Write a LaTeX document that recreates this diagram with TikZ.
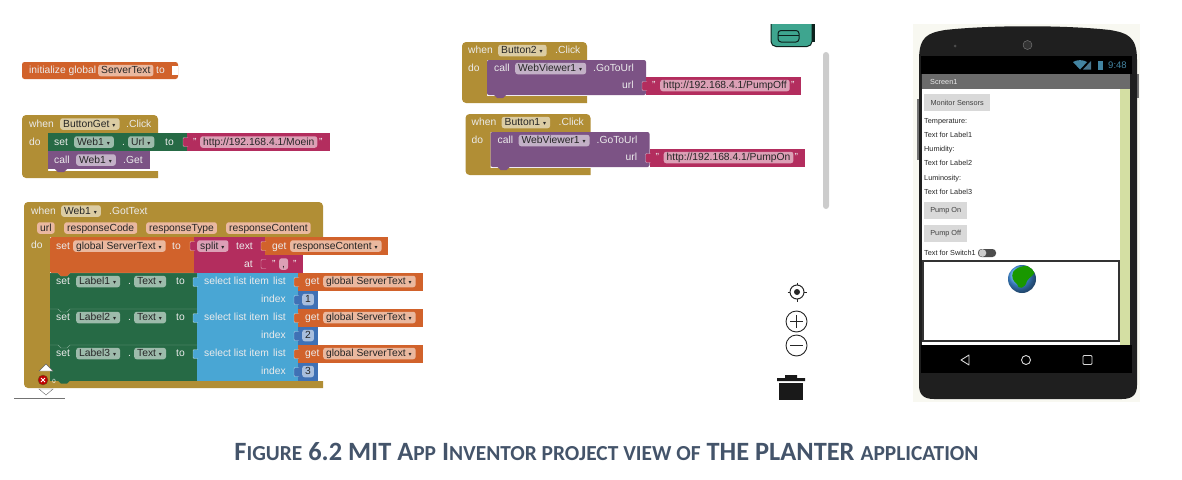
\documentclass[tikz,border=0pt]{standalone}
\usepackage{fontspec}
\setmainfont{Liberation Sans}
\newfontfamily\symfont{DejaVu Sans}
\newfontfamily\capfont{Carlito}
\definecolor{bgold}{HTML}{B18E35}
\definecolor{borange}{HTML}{D1622B}
\definecolor{bgreen}{HTML}{266A45}
\definecolor{bpurple}{HTML}{7C5385}
\definecolor{bpink}{HTML}{B32D5E}
\definecolor{bblue}{HTML}{49A6D4}
\definecolor{bnum}{HTML}{3F71B5}
\definecolor{bteal}{HTML}{3EA58F}
\definecolor{capcol}{HTML}{44546A}
\definecolor{pstrip}{HTML}{D4DFA3}
\definecolor{pback}{HTML}{F8F8F1}
\newcommand{\dd}{{\symfont\fontsize{6}{6}\selectfont\ \,▾\,}}
\newcommand{\sm}[1]{{\fontsize{21.4}{21.4}\selectfont #1}}
% event block: x1 x2 strip y1 y2 y3 y4
\newcommand{\hatblk}[7]{\fill[bgold, rounded corners=4pt] (#2,#7) -- (#1,#7) -- (#1,#4) -- (#2,#4) [sharp corners] -- (#2,#5) -- (#3,#5) -- (#3,#6) -- (#2,#6) -- cycle;}
\newcommand{\tabin}[3]{\draw[white, draw opacity=0.6, line width=0.4pt, fill=#3, rounded corners=1pt] (#1+1,#2-4.5) -- (#1-4,#2-4.5) -- (#1-4,#2+4.5) -- (#1+1,#2+4.5);}
\newcommand{\bump}[3]{\fill[#3] (#1,#2) -- (#1+3,#2+3) -- (#1+9,#2+3) -- (#1+12,#2) -- cycle;}
\begin{document}
\begin{tikzpicture}[x=1pt, y=-1pt, every node/.style={font=\fontsize{10.3}{12}\selectfont}]
    \tikzset{wt/.style={anchor=west, inner sep=0pt, text height=8.5pt, text depth=2pt, text=white!92!black},
        fld/.style={anchor=west, inner xsep=3pt, inner ysep=0.5pt, text height=8.5pt, text depth=2pt, rounded corners=2.5pt, fill=white, fill opacity=0.55, text opacity=1, text=black!85},
        parm/.style={fld, fill=borange!45!white, fill opacity=1},
        phtxt/.style={anchor=west, inner sep=0pt, text height=5.5pt, text depth=1.5pt, font=\fontsize{7.3}{9}\selectfont, text=black!85},
        phbtn/.style={anchor=west, inner sep=0pt, minimum height=17pt, fill=black!15, font=\fontsize{7.3}{9}\selectfont, text=black!75}}
    \useasboundingbox (0,0) rectangle (1182,479);
    % initialize global
    \fill[borange, rounded corners=2.5pt] (22,62) rectangle (178,79);
    \fill[white] (172,66) rectangle (178,75);
    \node[wt] (inittxt) at (29,70.5) {initialize global};
    \node[fld] (initvar) at (98,70.5) {ServerText};
    \node[wt] (initto) at (156,70.5) {to};
    % ButtonGet
    \hatblk{22}{158}{48}{115}{133}{171}{178}
    \fill[bpurple] (48,151) rectangle (150,169);
    \bump{55}{169}{bpurple}
    \fill[bgreen] (48,133) rectangle (187,151);
    \fill[bpink] (187,133) rectangle (330,151);
    \tabin{187}{142}{bpink}
    \node[wt] (gwhen) at (29,124) {when};
    \node[fld] (gbtn) at (60,124) {ButtonGet\dd};
    \node[wt] (gclick) at (126,124) {.Click};
    \node[wt] (gdo) at (29,142) {do};
    \node[wt] (gset) at (54,142) {set};
    \node[fld] (gweb) at (74,142) {Web1\dd};
    \node[wt] (gdot) at (122,142) {.};
    \node[fld] (gurl) at (128,142) {Url\dd};
    \node[wt] (gto) at (165,142) {to};
    \node[wt] (gql) at (193,142) {"};
    \node[fld] (gstr) at (200,142) {http://192.168.4.1/Moein};
    \node[wt] (gqr) at (319,142) {"};
    \node[wt] (gcall) at (54,160) {call};
    \node[fld] (gweb2) at (76,160) {Web1\dd};
    \node[wt] (gget) at (123,160) {.Get};
    % GotText
    \hatblk{24}{323}{50}{202}{237}{381}{388}
    \node[wt] (twhen) at (31,211) {when};
    \node[fld] (tweb) at (61,211) {Web1\dd};
    \node[wt] (tgot) at (109,211) {.GotText};
    \node[parm] (purl) at (37,228) {url};
    \node[parm] (pcode) at (64,228) {responseCode};
    \node[parm] (ptype) at (146,228) {responseType};
    \node[parm] (pcont) at (226,228) {responseContent};
    \node[wt] (tdo) at (31,245) {do};
    \fill[borange, rounded corners=1.5pt] (50,237) rectangle (198,273);
    \fill[bpink] (194,237) rectangle (265,273);
    \fill[borange] (265,237) rectangle (388,255);
    \fill[bpink] (265,255) rectangle (303,273);
    \tabin{194}{246}{bpink}
    \tabin{265}{246}{borange}
    \tabin{265}{264}{bpink}
    \node[wt] (sset) at (56,246) {set};
    \node[fld] (svar) at (73,246) {global ServerText\dd};
    \node[wt] (sto) at (172,246) {to};
    \node[fld] (ssplit) at (197,246) {split\dd};
    \node[wt] (stext) at (236,246) {text};
    \node[wt] (sat) at (244,264) {at};
    \node[wt] (sget) at (272,246) {get};
    \node[fld] (scont) at (290,246) {responseContent\dd};
    \node[wt] (sql) at (272,264) {"};
    \node[fld] (scomma) at (279,264) {,};
    \node[wt] (sqr) at (293,264) {"};
    \foreach \i/\y in {1/273, 2/309, 3/345} {
        \fill[bgreen] (50,\y) rectangle (197,\y+35.5);
        \fill[bblue] (197,\y) rectangle (298,\y+35.5);
        \fill[bnum] (298,\y+18) rectangle (318,\y+35.5);
        \fill[borange] (298,\y) rectangle (423,\y+17.5);
        \draw[white, opacity=0.4, line width=0.4pt] (50,\y) -- (58,\y) -- (61,\y+3) -- (67,\y+3) -- (70,\y) -- (197,\y);
        \tabin{197}{\y+9}{bblue}
        \tabin{298}{\y+9}{borange}
        \tabin{298}{\y+27}{bnum}
        \node[wt] (lset\i) at (56,\y+8.5) {set};
        \node[fld] (lab\i) at (76,\y+8.5) {Label\i\dd};
        \node[wt] (ldot\i) at (128,\y+8.5) {.};
        \node[fld] (ltxt\i) at (134,\y+8.5) {Text\dd};
        \node[wt] (lto\i) at (176,\y+8.5) {to};
        \node[wt] (lsel\i) at (204,\y+8.5) {select list item};
        \node[wt] (llist\i) at (273,\y+8.5) {list};
        \node[wt] (lidx\i) at (261,\y+26.5) {index};
        \node[wt] (lget\i) at (305,\y+8.5) {get};
        \node[fld] (lvar\i) at (323,\y+8.5) {global ServerText\dd};
        \node[fld] (lnum\i) at (302,\y+26.5) {\i};
    }
    \bump{58}{273}{borange}
    \bump{58}{380.5}{bgreen}
    % error marks
    \draw[black!60, fill=white] (39,371) -- (46,364) -- (53,371) -- cycle;
    \draw[black!60, fill=white] (39,389) -- (46,395) -- (53,389) -- cycle;
    \fill[bgold] (36,374) rectangle (50,386);
    \draw[bgold!60!black, fill=red!75!black] (43,380) circle (5);
    \draw[white, line width=1pt] (41,378) -- (45,382) (45,378) -- (41,382);
    \node[inner sep=0pt, font=\fontsize{6}{6}\selectfont, text=white] (errnum) at (54,381) {0};
    \draw[black!55] (14,398) -- (65,398);
    % Button2 / Button1
    \foreach \nm/\dx/\dy/\pg in {2/0/0/PumpOff, 1/3.5/72/PumpOn} {
        \begin{scope}[shift={(\dx,\dy)}]
            \hatblk{462}{587}{487}{42}{60}{96}{103}
            \fill[bpurple, rounded corners=2pt] (487,60) rectangle (646,95);
            \bump{494}{95}{bpurple}
            \fill[bpink] (646,77) rectangle (801,95);
            \tabin{646}{86}{bpink}
            \node[wt] (bwhen\nm) at (468,50.5) {when};
            \node[fld] (bbtn\nm) at (498,50.5) {Button\nm\dd};
            \node[wt] (bclick\nm) at (555,50.5) {.Click};
            \node[wt] (bdo\nm) at (468,68) {do};
            \node[wt] (bcall\nm) at (494,68.5) {call};
            \node[fld] (bview\nm) at (515,68.5) {WebViewer1\dd};
            \node[wt] (bgo\nm) at (593,68.5) {.GoToUrl};
            \node[wt] (burl\nm) at (622,85.5) {url};
            \node[wt] (bql\nm) at (652,85.5) {"};
            \node[fld] (bstr\nm) at (660,85.5) {http://192.168.4.1/\pg};
            \node[wt] (bqr\nm) at (791,85.5) {"};
        \end{scope}
    }
    % backpack, scroll bar, zoom icons, trash
    \begin{scope}
        \clip (760,24) rectangle (820,50);
        \draw[black!80!bteal, line width=1pt, fill=bteal, rounded corners=5pt] (771,14) rectangle (812,46.5);
        \fill[black!80!bteal] (812,20) rectangle (815,42);
        \draw[black!80!bteal, line width=1pt, rounded corners=3pt] (778,30.5) rectangle (799,42);
        \draw[black!80!bteal, line width=0.8pt] (778,35) -- (799,35);
    \end{scope}
    \fill[black!20, rounded corners=3pt] (823,52) rectangle (829,209);
    \draw[black!85, line width=1pt] (797,292) circle (7);
    \fill[black!85] (797,292) circle (3);
    \draw[black!85, line width=1pt] (797,282.5) -- (797,285) (797,299) -- (797,301.5) (787.5,292) -- (790,292) (804,292) -- (806.5,292);
    \draw[black!85, line width=0.9pt] (796.5,321.5) circle (10.5);
    \draw[black!85, line width=1pt] (790,321.5) -- (803,321.5) (796.5,315) -- (796.5,328);
    \draw[black!85, line width=0.9pt] (796.5,345.5) circle (10.5);
    \draw[black!85, line width=1pt] (790,345.5) -- (803,345.5);
    \fill[black!90] (777,378) -- (785,378) -- (785,375) -- (797,375) -- (797,378) -- (805,378) -- (805,381) -- (777,381) -- cycle;
    \fill[black!90] (779,383) rectangle (803,400);
    % phone
    \fill[pback] (913,24) rectangle (1140,402);
    \fill[black!55] (1136,74) rectangle (1139,98);
    \fill[black!55] (917,99) rectangle (920,160);
    \fill[black!88] (919,60) .. controls (919,36) and (928,33) .. (945,30) .. controls (990,25) and (1065,25) .. (1110,30) .. controls (1127,33) and (1137,36) .. (1137,60) -- (1137,385) .. controls (1137,395) and (1132,399) .. (1122,399) -- (934,399) .. controls (924,399) and (919,395) .. (919,385) -- cycle;
    \fill[black] (921,56) rectangle (1132,74);
    \fill[black!58] (922,74) rectangle (1130,89);
    \fill[white] (922,89) rectangle (1120,345);
    \fill[pstrip] (1120,89) rectangle (1130,345);
    \fill[black!70] (955,46) circle (1.5);
    \draw[black!50, fill=black!80] (1027.5,45) circle (4.5);
    \fill[cyan!60!black] (1073,62) .. controls (1077,59.5) and (1083,59.5) .. (1087,62) -- (1080,69.5) -- cycle;
    \fill[cyan!50!black] (1083,69.5) -- (1091,61) -- (1091,69.5) -- cycle;
    \fill[cyan!60!black] (1098,61) rectangle (1103,69.5);
    \node[wt, text=cyan!60!black, font=\fontsize{9.5}{10}\selectfont] (ptime) at (1108,65) {9:48};
    \node[wt, font=\fontsize{7.3}{9}\selectfont] (pscreen) at (930,81) {Screen1};
    \node[phbtn, minimum width=66pt] (pmon) at (924,102.5) {Monitor Sensors};
    \node[phtxt] (ptemp) at (924,121) {Temperature:};
    \node[phtxt] (plab1) at (924,135) {Text for Label1};
    \node[phtxt] (phum) at (924,149) {Humidity:};
    \node[phtxt] (plab2) at (924,163.5) {Text for Label2};
    \node[phtxt] (plum) at (924,178) {Luminosity:};
    \node[phtxt] (plab3) at (924,192) {Text for Label3};
    \node[phbtn, minimum width=43pt] (pon) at (924,210.5) {Pump On};
    \node[phbtn, minimum width=43pt] (poff) at (924,233.5) {Pump Off};
    \node[phtxt] (psw) at (924,253) {Text for Switch1};
    \fill[black!70, rounded corners=3.5pt] (978,249) rectangle (996,257);
    \fill[black!20] (982.5,253) circle (3.8);
    \draw[black!80, line width=1.1pt, fill=white] (923,261) rectangle (1119,341);
    \shade[ball color=cyan!50!blue!70!white] (1022,279) circle (14);
    \begin{scope}
        \clip (1022,279) circle (14);
        \fill[green!55!black!90!yellow] (1013,272) .. controls (1018,265) and (1030,264) .. (1036,270) .. controls (1033,277) and (1030,276) .. (1027,281) .. controls (1025,289) and (1018,290) .. (1017,284) .. controls (1013,281) and (1011,277) .. (1013,272) -- cycle;
    \end{scope}
    \fill[black] (921,345) rectangle (1132,373);
    \draw[white!85!black, line width=0.9pt, line join=round] (969,355) -- (961,360) -- (969,365) -- cycle;
    \draw[white!85!black, line width=0.9pt] (1026,360) circle (4.5);
    \draw[white!85!black, line width=0.9pt, rounded corners=1pt] (1083,355.5) rectangle (1092,364.5);
    % caption
    \node[font=\capfont\bfseries\fontsize{26.4}{28}\selectfont, text=capcol, inner sep=0pt] (caption) at (606.5,452) {F\sm{IGURE} 6.2 MIT A\sm{PP} I\sm{NVENTOR PROJECT VIEW OF} THE PLANTER \sm{APPLICATION}};
\end{tikzpicture}
\end{document}
